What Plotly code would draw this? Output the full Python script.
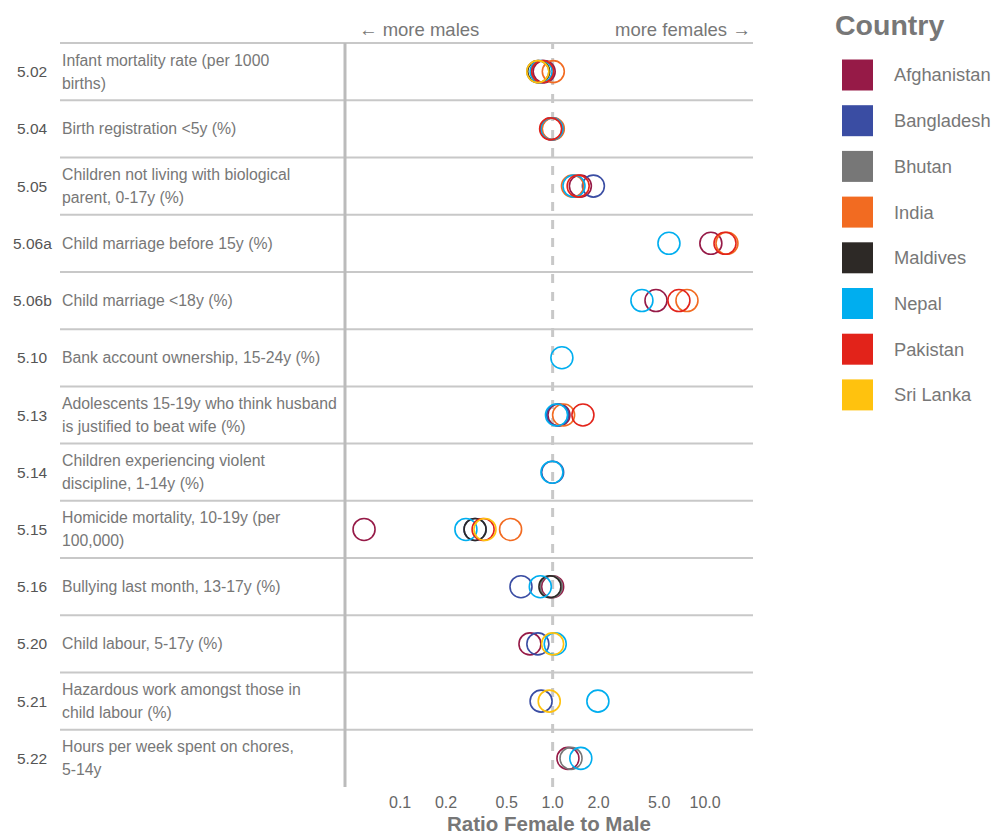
import plotly.graph_objects as go

codes = ["5.02", "5.04", "5.05", "5.06a", "5.06b", "5.10", "5.13", "5.14",
         "5.15", "5.16", "5.20", "5.21", "5.22"]
labels = [
    ["Infant mortality rate (per 1000", "births)"],
    ["Birth registration <5y (%)"],
    ["Children not living with biological", "parent, 0-17y (%)"],
    ["Child marriage before 15y (%)"],
    ["Child marriage <18y (%)"],
    ["Bank account ownership, 15-24y (%)"],
    ["Adolescents 15-19y who think husband", "is justified to beat wife (%)"],
    ["Children experiencing violent", "discipline, 1-14y (%)"],
    ["Homicide mortality, 10-19y (per", "100,000)"],
    ["Bullying last month, 13-17y (%)"],
    ["Child labour, 5-17y (%)"],
    ["Hazardous work amongst those in", "child labour (%)"],
    ["Hours per week spent on chores,", "5-14y"],
]

countries = ["Afghanistan", "Bangladesh", "Bhutan", "India", "Maldives",
             "Nepal", "Pakistan", "Sri Lanka"]
colors = ["#961A47", "#3A4DA3", "#777777", "#F26B21", "#2D2926",
          "#00AEEF", "#E2231A", "#FFC20E"]

N = None
afghanistan = [0.88, 0.98, 1.52, 10.9, 4.76, N, 1.10, N, 0.058, 1.00, 0.71, N, 1.26]
bangladesh  = [0.86, 1.00, 1.85, N, N, N, 1.08, 1.00, 0.31, 0.62, 0.80, 0.84, N]
bhutan      = [0.80, N, N, N, N, N, N, N, N, 0.98, N, N, 1.32]
india       = [1.01, 1.01, 1.35, 13.9, 7.6, N, 1.18, N, 0.53, N, N, N, N]
maldives    = [0.81, N, N, N, N, N, N, N, 0.31, 0.96, N, N, N]
nepal       = [0.84, 0.99, 1.38, 5.79, 3.85, 1.15, 1.06, 0.99, 0.27, 0.83, 1.04, 1.98, 1.53]
pakistan    = [0.86, 0.97, 1.47, 13.5, 6.73, N, 1.58, N, 0.35, N, N, N, N]
sri_lanka   = [0.80, N, N, N, N, N, N, N, 0.36, N, 1.00, 0.95, N]
series = [afghanistan, bangladesh, bhutan, india, maldives, nepal, pakistan, sri_lanka]

tick_vals = [0.1, 0.2, 0.5, 1, 2, 5, 10]
tick_text = ["0.1", "0.2", "0.5", "1.0", "2.0", "5.0", "10.0"]

FONT = "Liberation Sans, Arial, sans-serif"
GREY = "#777777"

fig = go.Figure()

# dashed reference line at ratio 1
fig.add_vline(x=1, line=dict(color="#c8c8c8", width=3, dash="dash"), layer="below")

for name, col, vals in zip(countries, colors, series):
    xs, ys = [], []
    for c, v in zip(codes, vals):
        if v is not None:
            xs.append(v)
            ys.append(c)
    fig.add_trace(go.Scatter(
        x=xs, y=ys, mode="markers", name=name, showlegend=False,
        marker=dict(symbol="circle-open", size=22, color=col,
                    line=dict(width=1.6, color=col)),
    ))

OFF = 8  # page body margin
W, H = 992, 827
L, R, T, B = 345 - OFF, 753 - OFF, 43 - OFF, 787 - OFF
pw, ph = R - L, B - T


def px(x):
    return (x - OFF - L) / pw


def py(y):
    return (B - (y - OFF)) / ph


shapes = []
n = len(codes)
for k in range(n + 1):
    shapes.append(dict(type="line", xref="paper", yref="paper",
                       x0=px(60), x1=1, y0=k / n, y1=k / n,
                       line=dict(color="#c8c8c8", width=2), layer="below"))
shapes.append(dict(type="line", xref="paper", yref="paper", x0=0, x1=0, y0=0, y1=1,
                   line=dict(color="#bbbbbb", width=3), layer="below"))

annotations = []
for i, (c, lab) in enumerate(zip(codes, labels)):
    annotations.append(dict(x=px(32), y=i, xref="paper", yref="y", text=c,
                            showarrow=False, xanchor="center", yanchor="middle",
                            font=dict(family=FONT, size=15.5, color="#555555")))
    if len(lab) == 1:
        offs = [0]
    else:
        offs = [11.5, -11.5]
    for line, o in zip(lab, offs):
        annotations.append(dict(x=px(60), y=i, xref="paper", yref="y", text=line,
                                showarrow=False, xanchor="left", yanchor="middle",
                                yshift=o,
                                font=dict(family=FONT, size=15.8, color=GREY)))

annotations.append(dict(x=px(357), y=py(30), xref="paper", yref="paper",
                        text="← more males", showarrow=False, xanchor="left",
                        yanchor="middle", font=dict(family=FONT, size=18.5, color=GREY)))
annotations.append(dict(x=1, y=py(30), xref="paper", yref="paper",
                        text="more females →", showarrow=False, xanchor="right",
                        yanchor="middle", font=dict(family=FONT, size=18.5, color=GREY)))

# legend
annotations.append(dict(x=px(833), y=py(25), xref="paper", yref="paper",
                        text="<b>Country</b>", showarrow=False, xanchor="left",
                        yanchor="middle", font=dict(family=FONT, size=28.5, color=GREY)))
for j, (name, col) in enumerate(zip(countries, colors)):
    cy = 75 + j * 45.7
    shapes.append(dict(type="rect", xref="paper", yref="paper",
                       x0=px(842), x1=px(873), y0=py(cy - 15.5), y1=py(cy + 15.5),
                       fillcolor=col, line=dict(width=0)))
    annotations.append(dict(x=px(892), y=py(cy), xref="paper", yref="paper",
                            text=name, showarrow=False, xanchor="left",
                            yanchor="middle",
                            font=dict(family=FONT, size=18.3, color=GREY)))

fig.update_layout(
    width=W, height=H,
    margin=dict(l=L, r=W - R, t=T, b=H - B, autoexpand=False),
    plot_bgcolor="white", paper_bgcolor="white",
    shapes=shapes, annotations=annotations,
    xaxis=dict(type="log", range=[-1.3615, 1.3138], tickvals=tick_vals,
               ticktext=tick_text, showgrid=False, zeroline=False, showline=False,
               ticks="", ticklabelstandoff=4, automargin=False,
               tickfont=dict(family=FONT, size=16, color="#666666"),
               title=dict(text="<b>Ratio Female to Male</b>", standoff=6,
                          font=dict(family=FONT, size=20.5, color=GREY))),
    yaxis=dict(type="category", categoryarray=codes, range=[n - 0.5, -0.5],
               showticklabels=False, showgrid=False, zeroline=False, showline=False,
               ticks="", automargin=False),
    showlegend=False,
)

fig.write_html("out.html")
